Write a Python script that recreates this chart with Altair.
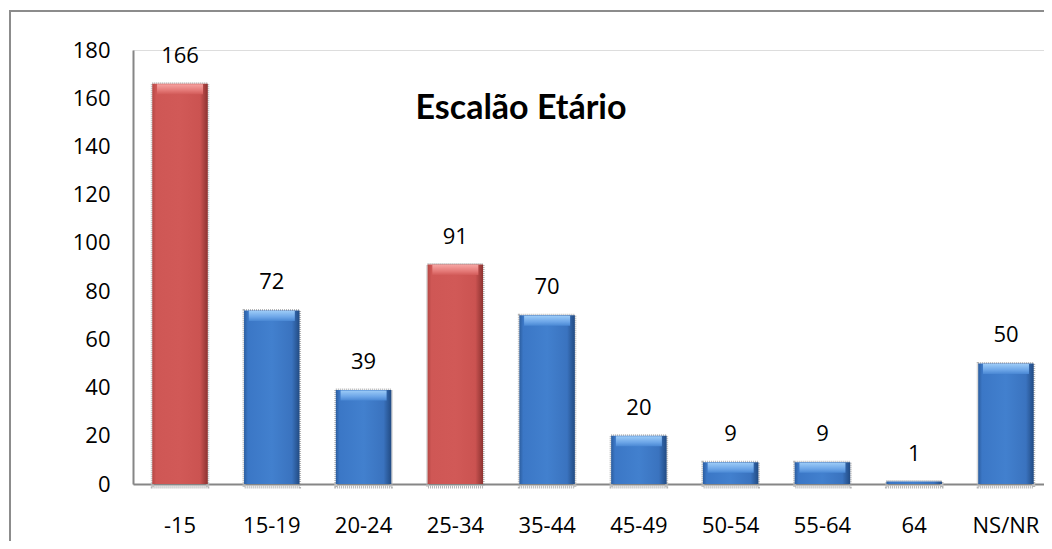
import altair as alt
import pandas as pd

categories = ["-15", "15-19", "20-24", "25-34", "35-44", "45-49", "50-54", "55-64", "64", "NS/NR"]
values = [166, 72, 39, 91, 70, 20, 9, 9, 1, 50]
highlighted = ["-15", "25-34"]
y_ticks = [0, 20, 40, 60, 80, 100, 120, 140, 160, 180]
title_text = "Escalão Etário"

df = pd.DataFrame({"cat": categories, "val": values})
df["grp"] = ["red" if c in highlighted else "blue" for c in categories]

W, H = 911, 434
FONT = "Open Sans"

xenc = alt.X("cat:N", sort=categories,
             scale=alt.Scale(paddingInner=0.395, paddingOuter=0.21, range=[0, 920]),
             axis=alt.Axis(title=None, labelAngle=0, ticks=False, labelPadding=31,
                           labelFont=FONT, labelFontSize=22, labelColor="#000000",
                           domainColor="#868686", domainWidth=2, grid=False))
yenc = alt.Y("val:Q", scale=alt.Scale(domain=[0, 180], nice=False),
             axis=alt.Axis(title=None, values=y_ticks, ticks=False, labelPadding=23,
                           labelFont=FONT, labelFontSize=22, labelColor="#000000",
                           domainColor="#868686", domainWidth=2, grid=False))

def hgrad(stops):
    return alt.LinearGradient(gradient="linear", x1=0, x2=1, y1=0, y2=0,
                              stops=[alt.GradientStop(color=c, offset=o) for o, c in stops])

def vgrad(stops):
    return alt.LinearGradient(gradient="linear", x1=0, x2=0, y1=0, y2=1,
                              stops=[alt.GradientStop(color=c, offset=o) for o, c in stops])

red_body = hgrad([(0, "#B64845"), (0.07, "#CF5755"), (0.5, "#D15957"), (0.86, "#CB5351"), (1, "#8C3230")])
blue_body = hgrad([(0, "#2C5EA0"), (0.07, "#3B77C6"), (0.5, "#4280CE"), (0.86, "#3A73BF"), (1, "#224B83")])
red_cap = vgrad([(0, "#F5A3A1"), (0.6, "#E57A78"), (1, "#D25B59")])
blue_cap = vgrad([(0, "#9CCBF7"), (0.6, "#6DA6E8"), (1, "#4A88D4")])

base = alt.Chart(df)

shadow = base.mark_bar(fill=None, stroke="#b5b5b5", strokeDash=[1, 1], strokeWidth=3,
                       y2Offset=3).encode(x=xenc, y=yenc, y2=alt.datum(0))

red_bars = base.transform_filter(alt.datum.grp == "red").mark_bar(fill=red_body).encode(x=xenc, y=yenc)
blue_bars = base.transform_filter(alt.datum.grp == "blue").mark_bar(fill=blue_body).encode(x=xenc, y=yenc)

red_caps = base.transform_filter((alt.datum.grp == "red") & (alt.datum.val >= 5)).mark_tick(
    color=red_cap, thickness=10, size=46, yOffset=5.5, opacity=1).encode(x=xenc, y=yenc)
blue_caps = base.transform_filter((alt.datum.grp == "blue") & (alt.datum.val >= 5)).mark_tick(
    color=blue_cap, thickness=10, size=46, yOffset=5.5, opacity=1).encode(x=xenc, y=yenc)

labels = base.mark_text(font=FONT, fontSize=22, color="#000000", baseline="alphabetic", dy=-21).encode(
    x=xenc, y=yenc, text=alt.Text("val:Q"))

title = alt.Chart(alt.Data(values=[{"t": title_text}])).mark_text(
    font="Lato", fontSize=34, fontWeight="bold",
    color="#000000", align="center", baseline="alphabetic").encode(
    x=alt.value(388), y=alt.value(69), text="t:N")

frame = alt.Chart(alt.Data(values=[{"a": 1}])).mark_rect(
    fill=None, stroke="#8c8c8c", strokeWidth=2).encode(
    x=alt.value(-123), x2=alt.value(W + 60), y=alt.value(-39), y2=alt.value(H + 90))

chart = alt.layer(frame, shadow, red_bars, blue_bars, red_caps, blue_caps, labels, title).properties(
    width=W, height=H,
    autosize=alt.AutoSizeParams(type="none"),
    padding={"left": 125, "top": 42, "right": 0, "bottom": 57},
).configure_view(stroke=None).configure(background="#ffffff")

chart.save("out.html", embed_options={"renderer": "svg", "actions": False})
